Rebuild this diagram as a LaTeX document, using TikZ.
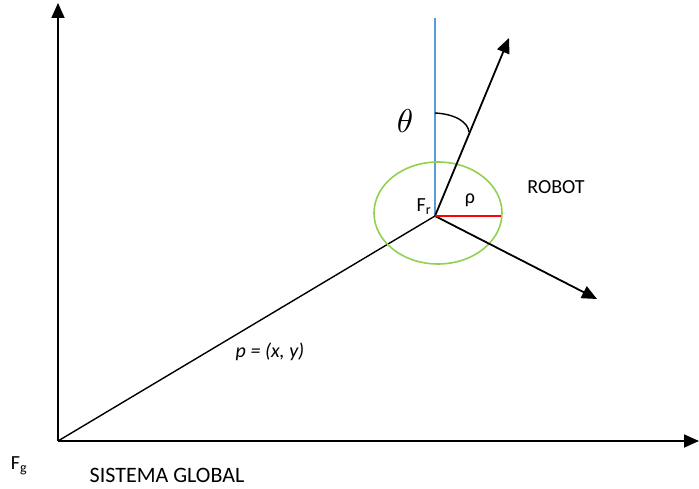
\documentclass[tikz,border=0pt]{standalone}
\usepackage{fontspec}
\setmainfont{Carlito}
\usetikzlibrary{arrows.meta}
\definecolor{axblue}{RGB}{91,155,213}
\definecolor{cgreen}{RGB}{146,208,80}
\tikzset{
  ax/.style={line width=1.8pt, -{Triangle[length=15pt,width=13pt]}},
  lbl/.style={inner sep=0pt, font=\fontsize{20}{24}\selectfont},
}
\begin{document}
\begin{tikzpicture}[x=1pt,y=-1pt]
\useasboundingbox (0,0) rectangle (699,489);
\coordinate (O) at (58,441);
\coordinate (Ytip) at (58,3);
\coordinate (Xtip) at (699,441);
\coordinate (Fr) at (435,216);
\coordinate (Btop) at (435,18);
\coordinate (H) at (509,38);
\coordinate (S) at (597,299);
\coordinate (R) at (501,216);
\draw[ax] (O) -- (Ytip);
\draw[ax] (O) -- (Xtip);
\draw[line width=1.4pt] (O) -- (Fr);
\draw[axblue, line width=1.4pt] (Fr) -- (Btop);
\draw[cgreen, line width=1.6pt] (438,213) ellipse [x radius=64, y radius=51];
\draw[ax] (Fr) -- (H);
\draw[ax] (Fr) -- (S);
\draw[red, line width=1.8pt] (Fr) -- (R);
\draw[line width=1.4pt] (435,113) .. controls (455,114) and (468,122) .. (469,132);
\node[scale=3.3, inner sep=0pt] (theta) at (405,121) {$\theta$};
\node[lbl] (fr) at (424,207) {F\textsubscript{r}};
\node[lbl] (rho) at (470,200) {ρ};
\node[lbl] (robot) at (556,187) {ROBOT};
\node[lbl] (p) at (270,352) {\itshape p = (x, y)};
\node[lbl] (fg) at (19,466) {F\textsubscript{g}};
\node[lbl, font=\fontsize{22}{26}\selectfont] (sg) at (167,475) {SISTEMA GLOBAL};
\end{tikzpicture}
\end{document}
